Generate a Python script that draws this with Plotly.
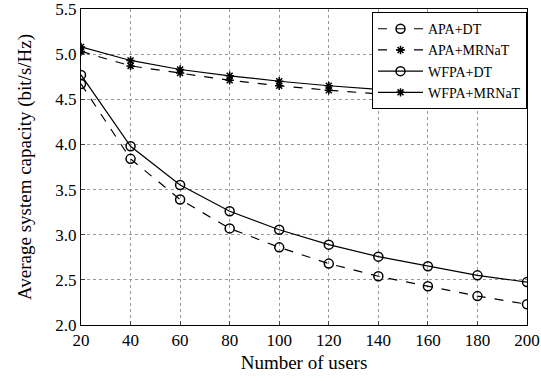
import plotly.graph_objects as go

users = [20, 40, 60, 80, 100, 120, 140, 160, 180, 200]
apa_dt = [4.67, 3.84, 3.39, 3.07, 2.86, 2.68, 2.54, 2.43, 2.32, 2.23]
apa_mrnat = [5.03, 4.87, 4.79, 4.71, 4.65, 4.60, 4.56, 4.52, 4.49, 4.45]
wfpa_dt = [4.77, 3.98, 3.55, 3.26, 3.055, 2.89, 2.757, 2.65, 2.55, 2.475]
wfpa_mrnat = [5.08, 4.93, 4.83, 4.76, 4.70, 4.65, 4.61, 4.57, 4.54, 4.51]
y_ticks = [2.0, 2.5, 3.0, 3.5, 4.0, 4.5, 5.0, 5.5]

font = "Liberation Serif"

series = [
    ("APA+DT", apa_dt, "dash", "circle-open", 9),
    ("APA+MRNaT", apa_mrnat, "dash", "asterisk-open", 7),
    ("WFPA+DT", wfpa_dt, "solid", "circle-open", 9),
    ("WFPA+MRNaT", wfpa_mrnat, "solid", "asterisk-open", 7),
]

fig = go.Figure()
for name, vals, dash, sym, sz in series:
    fig.add_trace(go.Scatter(
        x=users, y=vals, name=name, mode="lines+markers",
        line=dict(color="black", width=1.2, dash=dash),
        marker=dict(symbol=sym, size=sz, color="black", line=dict(width=1.5, color="black")),
    ))

fig.update_layout(
    width=541, height=381,
    margin=dict(l=81, r=14, t=9, b=56),
    paper_bgcolor="white", plot_bgcolor="white",
    font=dict(family=font, size=16, color="black"),
    showlegend=True,
    legend=dict(x=1.0, y=0.99, xanchor="right", yanchor="top",
                bordercolor="black", borderwidth=1, bgcolor="white",
                font=dict(size=14, family=font), tracegroupgap=0,
                itemwidth=45),
)
fig.update_xaxes(
    automargin=False, ticklabeloverflow="allow",
    range=[20, 200], tickvals=users, ticks="inside", ticklen=4,
    showline=True, linecolor="black", linewidth=1, mirror=True,
    showgrid=True, gridcolor="#999999", griddash="dot", gridwidth=1,
    zeroline=False, title=dict(text="Number of users", standoff=6),
    tickfont=dict(size=17),
)
fig.update_yaxes(
    automargin=False, ticklabeloverflow="allow",
    range=[2.0, 5.5], tickvals=y_ticks,
    tickformat=".1f", ticks="inside", ticklen=4,
    showline=True, linecolor="black", linewidth=1, mirror=True,
    showgrid=True, gridcolor="#999999", griddash="dot", gridwidth=1,
    zeroline=False, title=dict(text="Average system capacity (bit/s/Hz)", standoff=18),
    tickfont=dict(size=17),
)
fig.write_html("out.html", config={"displayModeBar": False},
               post_script="document.body.style.margin='0';")
